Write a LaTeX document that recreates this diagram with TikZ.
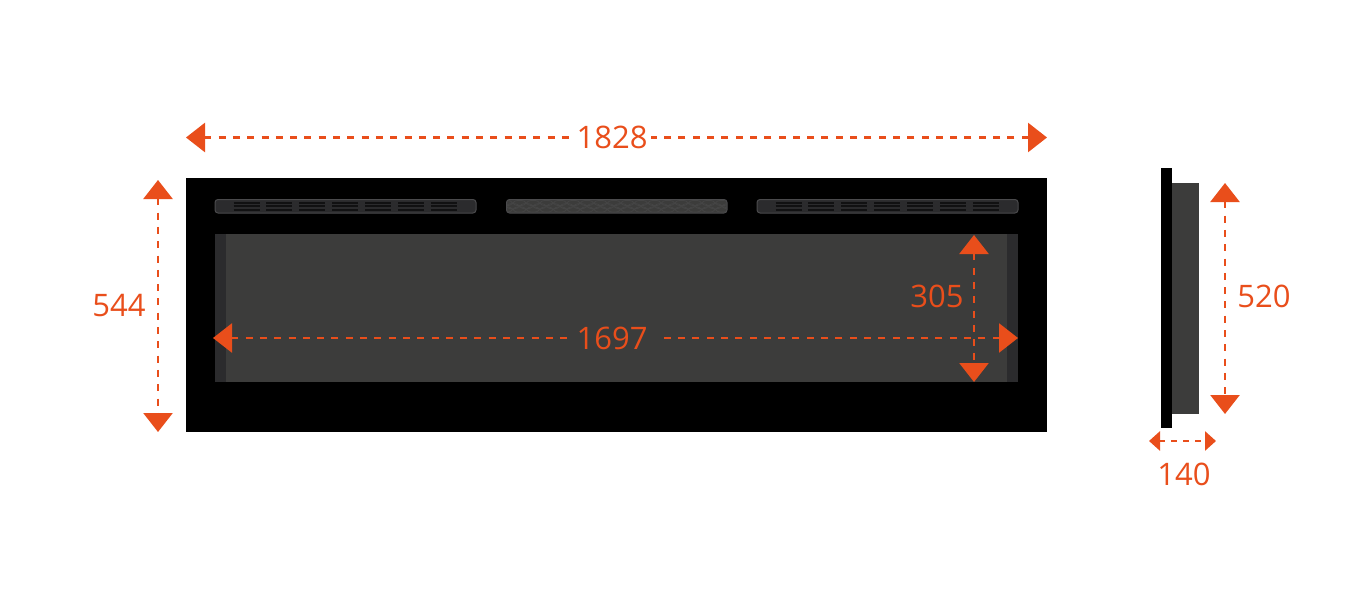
\documentclass[tikz,border=0pt]{standalone}
\usepackage{fontspec}
\setmainfont{Open Sans}
\usetikzlibrary{arrows.meta}
\definecolor{dimorange}{HTML}{E94E1B}
\definecolor{glassgray}{HTML}{3C3C3B}
\definecolor{stripgray}{HTML}{2B2B2D}
\definecolor{ventedge}{HTML}{4A4A4C}
\definecolor{meshgray}{HTML}{454545}
\begin{document}
\begin{tikzpicture}[x=1pt,y=-1pt,
panel/.style={fill=black,draw=none},
glass/.style={fill=glassgray,draw=none},
strip/.style={fill=stripgray,draw=none},
vent/.style={fill=stripgray,draw=ventedge,line width=1pt,rounded corners=3pt},
slot/.style={draw=black!60!stripgray,line width=1.8pt},
dimline/.style={draw=dimorange,line width=2.7pt,dash pattern=on 7pt off 7.3pt},
bigtip/.style={dimline,{Triangle[length=19pt,width=29pt]}-{Triangle[length=19pt,width=29pt]}},
starttip/.style={dimline,{Triangle[length=19pt,width=29pt]}-},
smalltip/.style={dimline,dash pattern=on 6pt off 6pt,{Triangle[length=11pt,width=19pt]}-{Triangle[length=11pt,width=19pt]}},
dimlabel/.style={text=dimorange,font=\fontsize{31}{31}\selectfont,inner sep=0pt}]
\useasboundingbox (0,0) rectangle (1350,594);
\fill[white] (0,0) rectangle (1350,594);
% front view
\fill[panel] (186,178) rectangle (1047,432);
\fill[glass] (215,234) rectangle (1018,382);
\fill[strip] (215,234) rectangle (226,382);
\fill[strip] (1007,234) rectangle (1018,382);
% side vents
\foreach \xoff in {0,542} {
  \draw[vent] (215+\xoff,199.5) rectangle (476+\xoff,213);
  \foreach \n in {0,...,6}
    \foreach \yy in {202.8,206.3,209.8}
      \draw[slot] (233.5+\xoff+32.9*\n,\yy) -- (259.5+\xoff+32.9*\n,\yy);
}
% middle vent
\draw[vent,fill=glassgray] (506.5,199.5) rectangle (727,213);
\begin{scope}
\clip[rounded corners=3pt] (507,200) rectangle (726.5,212.5);
\foreach \n in {0,...,16} {
  \foreach \yy in {203,209.5}
    \draw[meshgray,line width=.8pt] (506+13.5*\n,\yy) ellipse (6.5pt and 2.6pt);
  \draw[meshgray,line width=.8pt] (512.7+13.5*\n,206.2) ellipse (6.5pt and 2.6pt);
}
\end{scope}
% side view
\fill[panel] (1161,168) rectangle (1172,428);
\fill[glass] (1172,182.5) rectangle (1199,413.5);
% dimensions
\coordinate (widthL) at (186,137.5);
\coordinate (widthR) at (1047,137.5);
\coordinate (heightT) at (158,180);
\coordinate (heightB) at (158,432);
\coordinate (glassL) at (213,338);
\coordinate (glassR) at (1018,338);
\coordinate (glassT) at (974,235);
\coordinate (glassB) at (974,382);
\coordinate (sideT) at (1225,183);
\coordinate (sideB) at (1225,414);
\coordinate (depthL) at (1149,441);
\coordinate (depthR) at (1216,441);
\node[dimlabel,minimum width=78pt,minimum height=30pt] (lblWidth) at (612,137.5) {1828};
\node[dimlabel,minimum width=90pt,minimum height=30pt] (lblGlass) at (612,338) {1697};
\node[dimlabel] (lblHeight) at (119,306) {544};
\node[dimlabel] (lblOpen) at (937,296) {305};
\node[dimlabel] (lblSide) at (1264,296) {520};
\node[dimlabel] (lblDepth) at (1184,474) {140};
\path
(widthL) edge[starttip] (lblWidth)
(widthR) edge[starttip] (lblWidth)
(glassR) edge[starttip] (lblGlass)
(glassL) edge[starttip] (lblGlass)
(heightT) edge[bigtip] (heightB)
(glassT) edge[bigtip] (glassB)
(sideT) edge[bigtip] (sideB)
(depthL) edge[smalltip] (depthR);
\end{tikzpicture}
\end{document}
